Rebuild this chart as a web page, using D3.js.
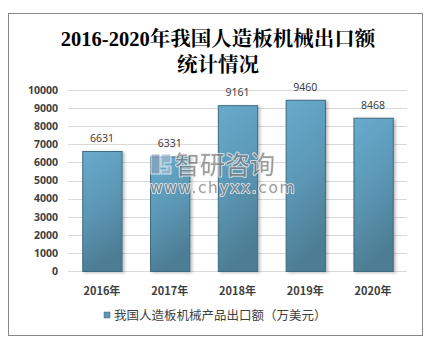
<!DOCTYPE html>
<html>
<head>
<meta charset="utf-8">
<script src="https://cdn.jsdelivr.net/npm/d3@7"></script>
<style>
  html, body { margin: 0; padding: 0; background: #fff; }
  svg { display: block; }
</style>
</head>
<body>
<svg id="chart" width="436" height="348"></svg>
<script>
// Export value of wood-based panel machinery, 2016-2020 (10k USD)
const years = ["2016年", "2017年", "2018年", "2019年", "2020年"];
const exportValues = [6631, 6331, 9161, 9460, 8468];
const yTicks = [0, 1000, 2000, 3000, 4000, 5000, 6000, 7000, 8000, 9000, 10000];
const titleLines = ["2016-2020年我国人造板机械出口额", "统计情况"];
const legendLabel = "我国人造板机械产品出口额（万美元）";

const svg = d3.select("#chart");
const plot = { left: 68, right: 407, top: 90, bottom: 271 };

const x = d3.scaleBand().domain(years).range([plot.left, plot.right]).paddingInner(0.42).paddingOuter(0.21);
const y = d3.scaleLinear().domain([0, 10000]).range([plot.bottom, plot.top]);

// defs: bar gradient and soft shadow
const defs = svg.append("defs");
const grad = defs.append("linearGradient").attr("id", "barFill")
  .attr("x1", 0).attr("y1", 0).attr("x2", 0.25).attr("y2", 1);
grad.append("stop").attr("offset", "0%").attr("stop-color", "#68abcc");
grad.append("stop").attr("offset", "55%").attr("stop-color", "#5b96b4");
grad.append("stop").attr("offset", "100%").attr("stop-color", "#4d7d94");
const shadow = defs.append("filter").attr("id", "barShadow")
  .attr("x", "-20%").attr("y", "-10%").attr("width", "150%").attr("height", "130%");
shadow.append("feDropShadow").attr("dx", 2).attr("dy", 1).attr("stdDeviation", 1.5)
  .attr("flood-color", "#000").attr("flood-opacity", 0.25);

// outer frame
svg.append("rect").attr("x", 8.5).attr("y", 13.5).attr("width", 414).attr("height", 322)
  .attr("fill", "#fff").attr("stroke", "#888").attr("stroke-width", 1);

// title
const title = svg.append("text").attr("text-anchor", "middle")
  .attr("font-family", "'Liberation Serif', 'DejaVu Serif', 'Noto Serif CJK SC', 'Noto Sans CJK SC', serif")
  .attr("font-weight", "bold").attr("font-size", 20.5).attr("fill", "#000");
titleLines.forEach((t, i) => {
  title.append("tspan").attr("x", 218).attr("y", 46 + i * 26).text(t);
});

// gridlines
svg.append("g").selectAll("line").data(yTicks).join("line")
  .attr("x1", plot.left).attr("x2", plot.right)
  .attr("y1", d => Math.round(y(d)) + 0.5).attr("y2", d => Math.round(y(d)) + 0.5)
  .attr("stroke", "#d9d9d9").attr("stroke-width", 1);

// y axis labels
const yAxis = svg.append("g").attr("transform", `translate(${plot.left},0)`)
  .call(d3.axisLeft(y).tickValues(yTicks).tickSize(0).tickPadding(10).tickFormat(d3.format("d")));
yAxis.select(".domain").remove();
yAxis.selectAll("text").attr("font-family", "'Noto Sans', 'Liberation Sans', sans-serif")
  .attr("font-size", 10.5).attr("fill", "#404040").attr("font-weight", "bold");

// bars
svg.append("g").selectAll("rect").data(exportValues).join("rect")
  .attr("x", (d, i) => x(years[i]) + 0.5)
  .attr("y", d => y(d) + 0.5)
  .attr("width", x.bandwidth())
  .attr("height", d => y(0) - y(d))
  .attr("fill", "url(#barFill)")
  .attr("stroke", "#3e6b80").attr("stroke-width", 1)
  .attr("filter", "url(#barShadow)");

// value labels
svg.append("g").selectAll("text").data(exportValues).join("text")
  .attr("x", (d, i) => x(years[i]) + x.bandwidth() / 2)
  .attr("y", d => y(d) - 9)
  .attr("text-anchor", "middle")
  .attr("font-family", "'Noto Sans', 'Liberation Sans', sans-serif")
  .attr("font-size", 10.5).attr("fill", "#404040")
  .text(d => d);

// watermark, drawn over the bars with a pale halo
const wm = svg.append("g").attr("opacity", 0.75);
wm.append("rect").attr("x", 151).attr("y", 154).attr("width", 9).attr("height", 20)
  .attr("fill", "#8aa0bd").attr("stroke", "#fff").attr("stroke-width", 1);
wm.append("path").attr("d", "M161,154 h10 v9 h-7 v3 h7 v8 h-10 v-4 h6 v-3 h-6 z")
  .attr("fill", "#a3b8d0").attr("stroke", "#fff").attr("stroke-width", 1);
wm.selectAll("text.wm").data([
  { t: "智研咨询", x: 175, y: 174, f: "'Noto Sans CJK SC', sans-serif", s: 25, ls: 0 },
  { t: "www.chyxx.com", x: 150, y: 193, f: "'DejaVu Sans', sans-serif", s: 15.5, ls: 1.6 }
]).join("text").attr("class", "wm")
  .attr("x", d => d.x).attr("y", d => d.y)
  .attr("font-family", d => d.f).attr("font-size", d => d.s)
  .attr("letter-spacing", d => d.ls)
  .attr("fill", "#7d7d7d").attr("stroke", "#f2f2f2").attr("stroke-width", 2)
  .attr("paint-order", "stroke").attr("stroke-linejoin", "round")
  .text(d => d.t);

// x axis labels
svg.append("g").selectAll("text").data(years).join("text")
  .attr("x", d => x(d) + x.bandwidth() / 2)
  .attr("y", 295)
  .attr("text-anchor", "middle")
  .attr("font-family", "'Noto Sans CJK SC', sans-serif")
  .attr("font-weight", "bold").attr("font-size", 11).attr("fill", "#404040")
  .text(d => d);

// legend
svg.append("rect").attr("x", 104).attr("y", 312).attr("width", 6).attr("height", 6)
  .attr("fill", "#5b96b4").attr("stroke", "#3e6b80").attr("stroke-width", 0.5);
svg.append("text").attr("x", 114).attr("y", 320)
  .attr("font-family", "'Noto Sans CJK SC', sans-serif")
  .attr("font-size", 12.5).attr("fill", "#404040").text(legendLabel);
</script>
</body>
</html>
